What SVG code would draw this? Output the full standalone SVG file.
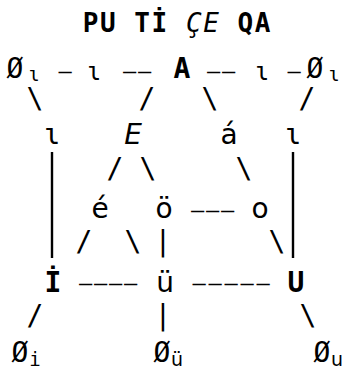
<svg xmlns="http://www.w3.org/2000/svg" width="348" height="373" viewBox="0 0 348 373">
  <style>
    text { fill: #000; text-anchor: middle; }
    .m  { font-family: "DejaVu Sans Mono", monospace; font-size: 28px; }
    .d  { font-family: "DejaVu Sans Mono", monospace; font-size: 22px; }
    .b  { font-weight: bold; }
    .it { font-style: italic; }
    .s  { font-family: "DejaVu Sans", sans-serif; font-size: 28px; }
    .si { font-family: "DejaVu Sans", sans-serif; font-size: 28px; font-style: italic; }
    .sub { font-family: "DejaVu Sans Mono", monospace; font-size: 19px; }
    .subs { font-family: "DejaVu Sans", sans-serif; font-size: 19px; }
    .ttl { font-family: "DejaVu Sans Mono", monospace; font-size: 26px; font-weight: bold; }
    .bar { stroke: #000; stroke-width: 2.4; }
  </style>
  <rect width="348" height="373" fill="#fff"/>

  <!-- heading -->
  <text class="ttl" y="32" x="90.6 107.8">PU</text>
  <text class="ttl" y="32" x="142.2 159.4">Tİ</text>
  <text class="ttl it" y="32" x="193.8 211" style="font-weight:normal">ÇE</text>
  <text class="ttl" y="32" x="245.4 262.6">QA</text>

  <!-- connectors -->
  <g id="connectors">
    <!-- top row dashes -->
    <text class="d" y="78" x="65">–</text>
    <text class="d" y="78" x="129.5 144.5">––</text>
    <text class="d" y="78" x="213.5 228.5">––</text>
    <text class="d" y="78" x="294">–</text>
    <!-- slashes under the top row -->
    <text class="m" y="108" x="35">\</text>
    <text class="m" y="108" x="147">/</text>
    <text class="m" y="108" x="210">\</text>
    <text class="m" y="108" x="307">/</text>
    <!-- long verticals -->
    <line class="bar" x1="52" y1="152" x2="52" y2="258"/>
    <line class="bar" x1="293" y1="152" x2="293" y2="258"/>
    <!-- under E and á -->
    <text class="m" y="178" x="115">/</text>
    <text class="m" y="178" x="148">\</text>
    <text class="m" y="178" x="244">\</text>
    <!-- ö to o -->
    <text class="d" y="217" x="197.5 212.5 227.5">–––</text>
    <!-- under é, ö, o -->
    <text class="m" y="251" x="84">/</text>
    <text class="m" y="251" x="133">\</text>
    <text class="m" y="251" x="163">|</text>
    <text class="m" y="251" x="277">\</text>
    <!-- İ to ü to U -->
    <text class="d" y="290" x="85.5 100.5 115.5 130.5">––––</text>
    <text class="d" y="290" x="199 215 231 247 263">–––––</text>
    <!-- bottom row -->
    <text class="m" y="325" x="35">/</text>
    <text class="m" y="325" x="163">|</text>
    <text class="m" y="325" x="308">\</text>
  </g>

  <!-- nodes -->
  <g id="n-null-l"><text class="m" y="78" x="15">Ø</text><text class="sub" y="81" x="34">ɩ</text></g>
  <g id="n-iota-l"><text class="m" y="80" x="94" style="font-size:24px">ɩ</text></g>
  <g id="n-A"><text class="m b" y="78" x="182">A</text></g>
  <g id="n-iota-r"><text class="m" y="80" x="262" style="font-size:24px">ɩ</text></g>
  <g id="n-null-r"><text class="m" y="78" x="315">Ø</text><text class="sub" y="81" x="334">ɩ</text></g>

  <g id="n-iota-a"><text class="m" y="144" x="52">ɩ</text></g>
  <g id="n-E"><text class="si" y="144" x="133">E</text></g>
  <g id="n-a-acute"><text class="s" y="144" x="229">á</text></g>
  <g id="n-iota-b"><text class="m" y="144" x="293">ɩ</text></g>

  <g id="n-e-acute"><text class="s" y="218" x="100">é</text></g>
  <g id="n-o-uml"><text class="s" y="218" x="164">ö</text></g>
  <g id="n-o"><text class="s" y="218" x="260">o</text></g>

  <g id="n-I"><text class="m b" y="292" x="53">İ</text></g>
  <g id="n-u-uml"><text class="s" y="292" x="165">ü</text></g>
  <g id="n-U"><text class="m b" y="292" x="296">U</text></g>

  <g id="n-null-i"><text class="m" y="362" x="20">Ø</text><text class="sub" y="366" x="35">i</text></g>
  <g id="n-null-u-uml"><text class="m" y="362" x="162">Ø</text><text class="subs" y="366" x="177">ü</text></g>
  <g id="n-null-u"><text class="m" y="362" x="322">Ø</text><text class="subs" y="366" x="337">u</text></g>
</svg>
